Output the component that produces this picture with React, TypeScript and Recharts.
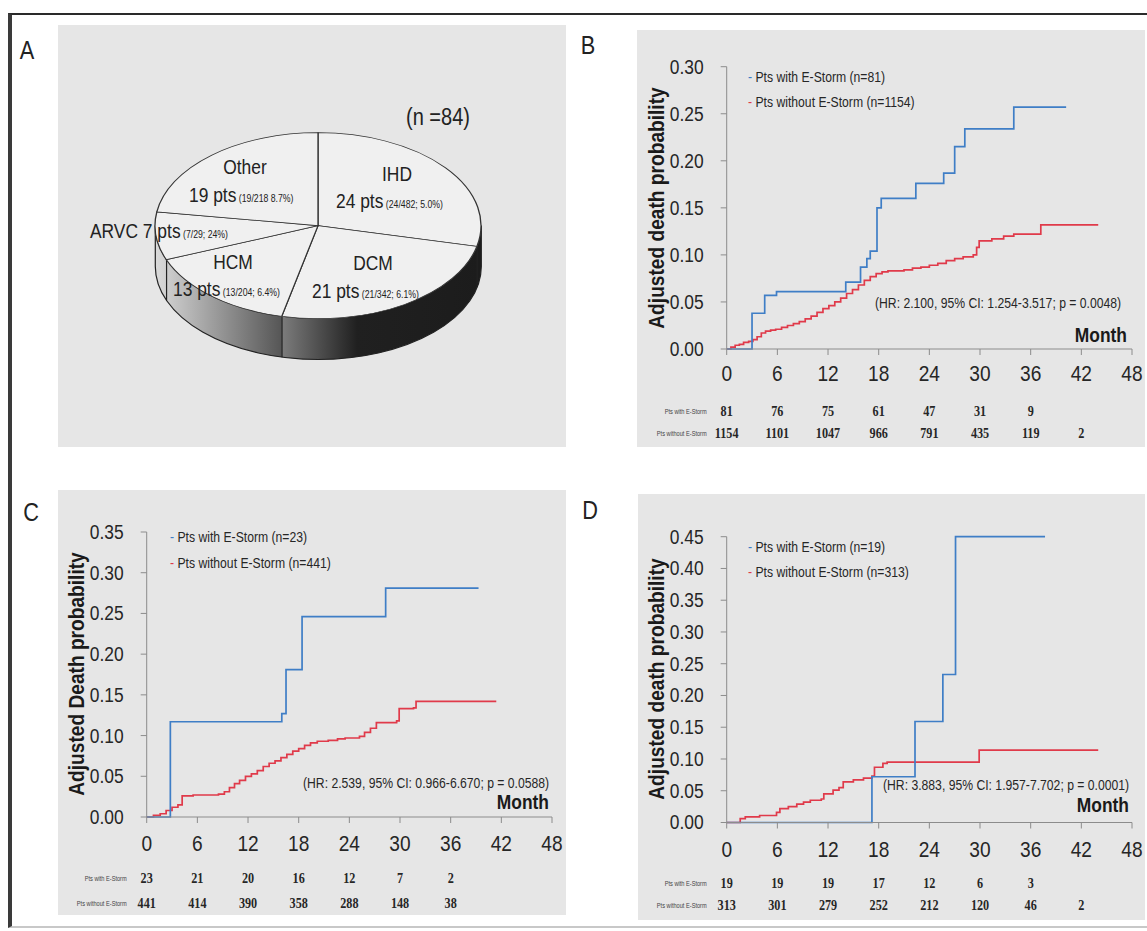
import React from 'react';
import { LineChart, Line, XAxis, YAxis, PieChart, Pie, Cell } from 'recharts';

const FONT = '"Liberation Sans", Arial, sans-serif';
const SERIF = '"Liberation Serif", "DejaVu Serif", serif';
const SX = 0.87;
const BLUE = '#3f7ec6';
const RED = '#e03a4a';
const PANEL_BG = '#e6e6e6';
const TEXT = '#262626';
const AXIS = '#8c8c8c';

// ---------- Panel A data ----------
const PIE_CATEGORIES = ['IHD', 'DCM', 'HCM', 'ARVC', 'Other'];
const PIE_COUNTS = [24, 21, 13, 7, 19];
const PIE_DETAILS = ['(24/482; 5.0%)', '(21/342; 6.1%)', '(13/204; 6.4%)', '(7/29; 24%)', '(19/218 8.7%)'];
const PIE_TOTAL_LABEL = '(n =84)';

// ---------- shared axis ticks ----------
const MONTH_TICKS = [0, 6, 12, 18, 24, 30, 36, 42, 48];
const ROW_LABELS = ['Pts with E-Storm', 'Pts without E-Storm'];

// ---------- Panel B data ----------
const B_Y_TICKS = [0, 0.05, 0.1, 0.15, 0.2, 0.25, 0.3];
const B_WITH_MONTH = [0, 3, 4.5, 5.9, 14.1, 15.85, 16.6, 17.0, 17.8, 18.3, 22.4, 25.7, 27.0, 28.2, 34.0, 40.2];
const B_WITH_PROB = [0, 0.038, 0.057, 0.061, 0.071, 0.087, 0.096, 0.104, 0.150, 0.160, 0.176, 0.187, 0.215, 0.234, 0.257, 0.257];
const B_WITHOUT_MONTH = [0, 0.5, 1, 1.5, 2, 2.6, 3.1, 3.6, 4.1, 4.6, 5.2, 5.8, 6.5, 7.2, 7.9, 8.6, 9.3, 10, 10.7, 11.4, 12.1, 12.8, 13.5, 14.2, 14.9, 15.6, 16.3, 17, 17.7, 18.4, 19.1, 20, 21, 22, 23, 24, 25, 26, 27, 28, 29.2, 29.6, 29.9, 31.4, 32.8, 34, 37.2, 44];
const B_WITHOUT_PROB = [0, 0.002, 0.004, 0.005, 0.007, 0.008, 0.010, 0.013, 0.017, 0.019, 0.020, 0.021, 0.023, 0.025, 0.027, 0.029, 0.032, 0.035, 0.039, 0.043, 0.046, 0.050, 0.054, 0.059, 0.063, 0.068, 0.073, 0.077, 0.080, 0.082, 0.083, 0.083, 0.084, 0.086, 0.087, 0.089, 0.091, 0.094, 0.096, 0.098, 0.100, 0.108, 0.115, 0.117, 0.120, 0.122, 0.132, 0.132];
const B_RISK_WITH = [81, 76, 75, 61, 47, 31, 9];
const B_RISK_WITHOUT = [1154, 1101, 1047, 966, 791, 435, 119, 2];
const B_LEGEND = ['Pts with E-Storm (n=81)', 'Pts without E-Storm (n=1154)'];
const B_HR = '(HR: 2.100, 95% CI: 1.254-3.517; p = 0.0048)';

// ---------- Panel C data ----------
const C_Y_TICKS = [0, 0.05, 0.1, 0.15, 0.2, 0.25, 0.3, 0.35];
const C_WITH_MONTH = [0, 2.8, 16.0, 16.5, 18.4, 28.3, 39.3];
const C_WITH_PROB = [0, 0.117, 0.127, 0.181, 0.246, 0.281, 0.281];
const C_WITHOUT_MONTH = [0, 0.8, 1.6, 2.3, 3, 3.7, 4.2, 5.5, 8.5, 9.2, 9.8, 10.4, 11, 11.7, 12.4, 13.1, 13.8, 14.5, 15.2, 15.9, 16.6, 17.3, 18, 18.7, 19.4, 20.2, 21.5, 22.6, 23.5, 25.2, 25.8, 26.5, 27.2, 29.6, 29.9, 31.6, 31.9, 41.4];
const C_WITHOUT_PROB = [0, 0.002, 0.004, 0.008, 0.012, 0.015, 0.026, 0.027, 0.028, 0.031, 0.036, 0.041, 0.045, 0.050, 0.053, 0.057, 0.062, 0.066, 0.069, 0.073, 0.077, 0.081, 0.084, 0.088, 0.091, 0.093, 0.094, 0.096, 0.097, 0.099, 0.104, 0.109, 0.116, 0.118, 0.133, 0.134, 0.142, 0.142];
const C_RISK_WITH = [23, 21, 20, 16, 12, 7, 2];
const C_RISK_WITHOUT = [441, 414, 390, 358, 288, 148, 38];
const C_LEGEND = ['Pts with E-Storm (n=23)', 'Pts without E-Storm (n=441)'];
const C_HR = '(HR: 2.539, 95% CI: 0.966-6.670; p = 0.0588)';

// ---------- Panel D data ----------
const D_Y_TICKS = [0, 0.05, 0.1, 0.15, 0.2, 0.25, 0.3, 0.35, 0.4, 0.45];
const D_WITH_MONTH = [0, 17.2, 22.3, 25.6, 27.1, 37.7];
const D_WITH_PROB = [0, 0.072, 0.159, 0.233, 0.45, 0.45];
const D_WITHOUT_MONTH = [0, 1.3, 1.6, 2.2, 3.9, 5.9, 6.3, 7.3, 8.3, 9.1, 9.9, 11.2, 11.5, 12.6, 13.3, 13.8, 15, 16.2, 17.2, 17.5, 18.5, 19, 29.7, 29.9, 44];
const D_WITHOUT_PROB = [0, 0, 0.006, 0.009, 0.011, 0.016, 0.022, 0.025, 0.029, 0.032, 0.035, 0.037, 0.045, 0.051, 0.055, 0.064, 0.067, 0.070, 0.073, 0.087, 0.093, 0.095, 0.095, 0.114, 0.114];
const D_RISK_WITH = [19, 19, 19, 17, 12, 6, 3];
const D_RISK_WITHOUT = [313, 301, 279, 252, 212, 120, 46, 2];
const D_LEGEND = ['Pts with E-Storm (n=19)', 'Pts without E-Storm (n=313)'];
const D_HR = '(HR: 3.883, 95% CI: 1.957-7.702; p = 0.0001)';

const zip = (ms: number[], ps: number[]) => ms.map((m, i) => ({ m, p: ps[i] }));

type Anchor = 'start' | 'middle' | 'end';

function Txt(props: {
  x: number; y: number; anchor?: Anchor; size: number; bold?: boolean; color?: string; rotate?: boolean; children: React.ReactNode;
}) {
  const { x, y, anchor = 'start', size, bold, color = TEXT, rotate, children } = props;
  const tx = anchor === 'middle' ? '-50%' : anchor === 'end' ? '-100%' : '0';
  const origin = anchor === 'middle' ? 'center' : anchor === 'end' ? 'right center' : 'left center';
  return (
    <div
      style={{
        position: 'absolute',
        left: x,
        top: y,
        transform: `translate(${tx},-50%) ${rotate ? 'rotate(-90deg) ' : ''}scaleX(${SX})`,
        transformOrigin: origin,
        fontFamily: FONT,
        fontSize: size,
        fontWeight: bold ? 'bold' : 'normal',
        color,
        whiteSpace: 'nowrap',
        lineHeight: 1.15,
      }}
    >
      {children}
    </div>
  );
}

type KMCfg = {
  letter: string;
  letterPos: [number, number];
  box: { left: number; top: number; width: number; height: number };
  x0: number; x48: number; yTop: number; y0: number;
  yMax: number; yTicks: number[];
  withData: { m: number; p: number }[];
  withoutData: { m: number; p: number }[];
  riskWith: number[]; riskWithout: number[];
  off: { label: number; r1: number; r2: number };
  legend: string[]; legendLeft: number; legendTops: [number, number];
  title: string; titleCenter: [number, number];
  hr: string; hrPos: [number, number];
  monthPos: [number, number];
};

const CFG_B: KMCfg = {
  letter: 'B', letterPos: [588, 45],
  box: { left: 637, top: 30, width: 508, height: 417 },
  x0: 726.7, x48: 1132, yTop: 66.7, y0: 349,
  yMax: 0.3, yTicks: B_Y_TICKS,
  withData: zip(B_WITH_MONTH, B_WITH_PROB), withoutData: zip(B_WITHOUT_MONTH, B_WITHOUT_PROB),
  riskWith: B_RISK_WITH, riskWithout: B_RISK_WITHOUT,
  off: { label: 24, r1: 62, r2: 84 },
  legend: B_LEGEND, legendLeft: 748, legendTops: [77, 102],
  title: 'Adjusted death probability', titleCenter: [657, 208],
  hr: B_HR, hrPos: [875, 303],
  monthPos: [1127, 335],
};

const CFG_C: KMCfg = {
  letter: 'C', letterPos: [31, 512],
  box: { left: 58, top: 490, width: 508, height: 425 },
  x0: 146.7, x48: 552, yTop: 532, y0: 817,
  yMax: 0.35, yTicks: C_Y_TICKS,
  withData: zip(C_WITH_MONTH, C_WITH_PROB), withoutData: zip(C_WITHOUT_MONTH, C_WITHOUT_PROB),
  riskWith: C_RISK_WITH, riskWithout: C_RISK_WITHOUT,
  off: { label: 26, r1: 61, r2: 86 },
  legend: C_LEGEND, legendLeft: 170, legendTops: [537, 563],
  title: 'Adjusted Death probability', titleCenter: [77, 674],
  hr: C_HR, hrPos: [303, 783],
  monthPos: [549, 802],
};

const CFG_D: KMCfg = {
  letter: 'D', letterPos: [590, 510],
  box: { left: 638, top: 494, width: 507, height: 426 },
  x0: 726.7, x48: 1132, yTop: 536.7, y0: 822.5,
  yMax: 0.45, yTicks: D_Y_TICKS,
  withData: zip(D_WITH_MONTH, D_WITH_PROB), withoutData: zip(D_WITHOUT_MONTH, D_WITHOUT_PROB),
  riskWith: D_RISK_WITH, riskWithout: D_RISK_WITHOUT,
  off: { label: 26, r1: 61, r2: 83 },
  legend: D_LEGEND, legendLeft: 748, legendTops: [547, 572],
  title: 'Adjusted death probability', titleCenter: [657, 679],
  hr: D_HR, hrPos: [883, 785],
  monthPos: [1129, 805],
};

function svgText(x: number, y: number, content: React.ReactNode, opts: { anchor: Anchor; size: number; bold?: boolean; family?: string; fill?: string; sx?: number }) {
  return (
    <text
      transform={`translate(${x} ${y}) scale(${opts.sx ?? SX} 1)`}
      x={0}
      y={0}
      textAnchor={opts.anchor}
      dominantBaseline="central"
      fontSize={opts.size}
      fontWeight={opts.bold ? 'bold' : 'normal'}
      fontFamily={opts.family ?? FONT}
      fill={opts.fill ?? TEXT}
    >
      {content}
    </text>
  );
}

function makeXTick(withRisk: number[], withoutRisk: number[], off: { label: number; r1: number; r2: number }) {
  return (props: any) => {
    const { x, y, payload } = props;
    const axisY = y - 8;
    const idx = MONTH_TICKS.indexOf(payload.value);
    const a = withRisk[idx];
    const b = withoutRisk[idx];
    return (
      <g>
        {svgText(x, axisY + off.label, payload.value, { anchor: 'middle', size: 22 })}
        {a !== undefined && svgText(x, axisY + off.r1, a, { anchor: 'middle', size: 14, bold: true, family: SERIF })}
        {b !== undefined && svgText(x, axisY + off.r2, b, { anchor: 'middle', size: 14, bold: true, family: SERIF })}
        {idx === 0 && svgText(x - 20, axisY + off.r1, ROW_LABELS[0], { anchor: 'end', size: 6.5, fill: '#444' })}
        {idx === 0 && svgText(x - 20, axisY + off.r2, ROW_LABELS[1], { anchor: 'end', size: 6.5, fill: '#444' })}
      </g>
    );
  };
}

const yTick = (props: any) => {
  const { x, y, payload } = props;
  return <g>{svgText(x, y, Number(payload.value).toFixed(2), { anchor: 'end', size: 20 })}</g>;
};

function KMPanel({ cfg }: { cfg: KMCfg }) {
  const { box } = cfg;
  const W = cfg.x48 - box.left + 24;
  const yAxisW = cfg.x0 - box.left;
  const rightM = W - (cfg.x48 - box.left);
  const topM = cfg.yTop - box.top;
  const xAxisH = box.top + box.height - cfg.y0;
  return (
    <>
      <Txt x={cfg.letterPos[0]} y={cfg.letterPos[1]} anchor="middle" size={25} color="#222">{cfg.letter}</Txt>
      <div style={{ position: 'absolute', left: box.left, top: box.top, width: box.width, height: box.height, background: PANEL_BG }} />
      <div style={{ position: 'absolute', left: box.left, top: box.top }}>
        <LineChart width={W} height={box.height} margin={{ top: topM, right: rightM, left: 0, bottom: 0 }}>
          <XAxis
            dataKey="m"
            type="number"
            domain={[0, 48]}
            ticks={MONTH_TICKS}
            interval={0}
            height={xAxisH}
            tickSize={6}
            tickMargin={2}
            stroke={AXIS}
            tick={makeXTick(cfg.riskWith, cfg.riskWithout, cfg.off)}
          />
          <YAxis
            type="number"
            domain={[0, cfg.yMax]}
            ticks={cfg.yTicks}
            interval={0}
            width={yAxisW}
            tickSize={6}
            tickMargin={17}
            stroke={AXIS}
            tick={yTick}
          />
          <Line data={cfg.withoutData} dataKey="p" type="stepAfter" stroke={RED} strokeWidth={1.7} dot={false} isAnimationActive={false} />
          <Line data={cfg.withData} dataKey="p" type="stepAfter" stroke={BLUE} strokeWidth={1.7} dot={false} isAnimationActive={false} />
        </LineChart>
      </div>
      {cfg.legend.map((t, i) => (
        <Txt key={t} x={cfg.legendLeft} y={cfg.legendTops[i]} size={14}>
          <span style={{ color: i === 0 ? BLUE : RED }}>-</span> {t}
        </Txt>
      ))}
      <Txt x={cfg.titleCenter[0]} y={cfg.titleCenter[1]} anchor="middle" size={22} bold rotate color="#1a1a1a">{cfg.title}</Txt>
      <Txt x={cfg.hrPos[0]} y={cfg.hrPos[1]} size={14}>{cfg.hr}</Txt>
      <Txt x={cfg.monthPos[0]} y={cfg.monthPos[1]} anchor="end" size={20} bold color="#1a1a1a">Month</Txt>
    </>
  );
}

// ---------- Panel A (3D-looking pie) ----------
const PIE_CX = 318.3;
const PIE_CY = 225.5;
const PIE_RX = 163;
const PIE_RY = 93;
const PIE_DEPTH = 41;
const PIE_BOX = { left: 58, top: 25, width: 508, height: 422 };

// label layout: name (centered) and count line (left-anchored)
const PIE_NAME_POS: ([number, number] | null)[] = [[397, 174], [372.5, 263], [232.5, 262], null, [245, 167]];
const PIE_COUNT_POS: [number, number][] = [[336, 201], [312, 291], [173, 289], [90, 231], [189, 195]];

function PiePanel() {
  const total = PIE_COUNTS.reduce((a, b) => a + b, 0);
  const data = PIE_CATEGORIES.map((name, i) => ({ name, value: PIE_COUNTS[i] }));
  const bounds: number[] = [];
  let acc = 0;
  PIE_COUNTS.forEach((c) => {
    acc += c;
    bounds.push(((90 - (acc / total) * 360) * Math.PI) / 180);
  });
  const L = PIE_CX - PIE_RX;
  const R = PIE_CX + PIE_RX;
  const front = bounds
    .filter((t) => Math.sin(t) < -1e-6)
    .map((t) => ({ x: PIE_CX + PIE_RX * Math.cos(t), y: PIE_CY - PIE_RY * Math.sin(t) }));
  const frac = (t: number) => (PIE_CX + PIE_RX * Math.cos(t) - L) / (2 * PIE_RX);
  const fHD = frac(bounds[1]);
  const fAH = frac(bounds[2]);
  const sidePath = `M ${L} ${PIE_CY} A ${PIE_RX} ${PIE_RY} 0 0 0 ${R} ${PIE_CY} L ${R} ${PIE_CY + PIE_DEPTH} A ${PIE_RX} ${PIE_RY} 0 0 1 ${L} ${PIE_CY + PIE_DEPTH} Z`;
  const k = PIE_RY / PIE_RX;
  const S = 2 * PIE_RX + 6;

  return (
    <>
      <Txt x={27} y={50} anchor="middle" size={25} color="#222">A</Txt>
      <div style={{ position: 'absolute', left: PIE_BOX.left, top: PIE_BOX.top, width: PIE_BOX.width, height: PIE_BOX.height, background: PANEL_BG }} />
      <svg style={{ position: 'absolute', left: 0, top: 0 }} width={600} height={460}>
        <defs>
          <linearGradient id="sideGrad" gradientUnits="userSpaceOnUse" x1={L} y1={0} x2={R} y2={0}>
            <stop offset={0} stopColor="#dadada" />
            <stop offset={fAH} stopColor="#d0d0d0" />
            <stop offset={fAH + 0.002} stopColor="#cdcdcd" />
            <stop offset={fHD - 0.002} stopColor="#565656" />
            <stop offset={fHD} stopColor="#7c7c7c" />
            <stop offset={Math.min(fHD + 0.23, 0.95)} stopColor="#202020" />
            <stop offset={1} stopColor="#1c1c1c" />
          </linearGradient>
        </defs>
        <path d={sidePath} fill="url(#sideGrad)" stroke="#222" strokeWidth={1.2} />
        {front.map((p, i) => (
          <line key={i} x1={p.x} y1={p.y} x2={p.x} y2={p.y + PIE_DEPTH} stroke="#222" strokeWidth={1.2} />
        ))}
      </svg>
      <div style={{ position: 'absolute', left: PIE_CX - S / 2, top: PIE_CY - (S / 2) * k, transform: `scaleY(${k})`, transformOrigin: '0 0' }}>
        <PieChart width={S} height={S} margin={{ top: 0, right: 0, bottom: 0, left: 0 }}>
          <Pie
            data={data}
            dataKey="value"
            nameKey="name"
            cx={S / 2}
            cy={S / 2}
            innerRadius={0}
            outerRadius={PIE_RX}
            startAngle={90}
            endAngle={-270}
            stroke="#333"
            strokeWidth={1.3}
            isAnimationActive={false}
          >
            {data.map((d) => (
              <Cell key={d.name} fill="#f0f0f0" stroke="#333" />
            ))}
          </Pie>
        </PieChart>
      </div>
      {PIE_CATEGORIES.map((name, i) => {
        const np = PIE_NAME_POS[i];
        const cp = PIE_COUNT_POS[i];
        const countTxt = np ? `${PIE_COUNTS[i]} pts` : `${name} ${PIE_COUNTS[i]} pts`;
        return (
          <React.Fragment key={name}>
            {np && <Txt x={np[0]} y={np[1]} anchor="middle" size={20} color="#222">{name}</Txt>}
            <Txt x={cp[0]} y={cp[1]} size={20} color="#222">
              {countTxt}
              <span style={{ fontSize: 10 }}> {PIE_DETAILS[i]}</span>
            </Txt>
          </React.Fragment>
        );
      })}
      <Txt x={406} y={117} size={23} color="#222">{PIE_TOTAL_LABEL}</Txt>
    </>
  );
}

export default function App() {
  return (
    <div style={{ position: 'absolute', left: 0, top: 0, width: 1147, height: 931, background: '#fff', overflow: 'hidden' }}>
      <div style={{ position: 'absolute', left: 8, top: 13, width: 1139, height: 911, borderTop: '2px solid #2a2a2a', borderLeft: '4px solid #3a3a3a', borderBottom: '2px solid #c8c8c8' }} />
      <PiePanel />
      <KMPanel cfg={CFG_B} />
      <KMPanel cfg={CFG_C} />
      <KMPanel cfg={CFG_D} />
    </div>
  );
}
